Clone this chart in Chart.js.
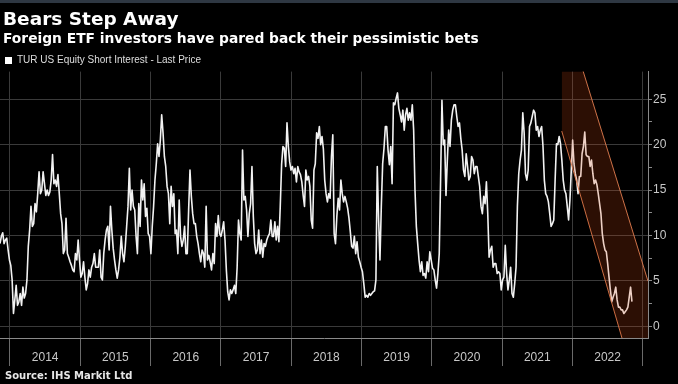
<!DOCTYPE html>
<html>
<head>
<meta charset="utf-8">
<title>Bears Step Away</title>
<script src="https://cdn.jsdelivr.net/npm/chart.js@4/dist/chart.umd.min.js"></script>
<style>
    html, body { margin: 0; padding: 0; background: #000; }
    #wrap { position: relative; width: 678px; height: 384px; overflow: hidden; background: #000; }
    #topbar { position: absolute; left: 0; top: 0; width: 678px; height: 3px; background: #2e3742; }
    .txt { position: absolute; left: 3px; color: #fff; font-family: "DejaVu Sans", sans-serif; font-weight: bold; white-space: nowrap; }
    #title { top: 8px; font-size: 18.5px; line-height: 22px; }
    #subtitle { top: 30px; font-size: 13.8px; line-height: 16px; }
    #source { top: 370px; left: 5px; font-size: 10px; line-height: 12px; color: #e6e6e6; }
    canvas { display: block; }
</style>
</head>
<body>
<div id="wrap">
    <canvas id="siChart" width="678" height="384"></canvas>
    <div id="topbar"></div>
    <div id="title" class="txt">Bears Step Away</div>
    <div id="subtitle" class="txt">Foreign ETF investors have pared back their pessimistic bets</div>
    <div id="source" class="txt">Source: IHS Markit Ltd</div>
</div>
<script>
// weekly readings, first one mid-Nov 2013 (decimal years on the x axis)
const firstWeek = 2013.858;
const weekStep = 7 / 365.25;

const shortInterest = [
    9.1, 9.9, 10.3, 9.1, 9.5, 9.7, 8.4, 7.3, 6.7, 5.1,
    1.4, 2.9, 4.5, 2.3, 2.7, 3.6, 2.3, 4.3, 3.1, 3.6,
    5.1, 8.8, 10.6, 13.2, 11.0, 11.3, 13.5, 12.6, 14.6, 17.0,
    14.6, 15.0, 17.0, 15.7, 14.4, 15.0, 14.4, 14.8, 16.1, 18.9,
    15.7, 16.1, 15.4, 16.7, 14.6, 12.4, 11.3, 8.0, 8.4, 11.9,
    8.0, 7.6, 7.1, 6.7, 6.2, 6.0, 8.0, 7.3, 9.5, 7.3,
    5.4, 5.8, 7.1, 5.4, 4.0, 4.7, 6.2, 5.4, 6.5, 6.9,
    8.0, 6.5, 6.5, 6.5, 8.4, 5.4, 5.1, 8.0, 9.5, 10.6,

    11.0, 8.4, 13.2, 10.6, 8.6, 7.3, 6.2, 5.3, 6.2, 7.6,
    9.9, 8.0, 7.1, 8.8, 11.0, 13.2, 17.4, 12.8, 15.0, 13.2,
    12.8, 9.9, 8.0, 13.5, 11.0, 16.1, 13.9, 15.7, 12.1, 13.0,
    10.2, 9.9, 8.0, 11.0, 13.2, 16.1, 17.9, 20.1, 18.7, 20.5,
    23.3, 21.3, 18.7, 17.6, 15.4, 14.6, 11.3, 15.4, 13.2, 14.6,
    10.2, 10.6, 8.0, 13.9, 9.9, 8.8, 9.5, 11.0, 8.0, 8.0,
    12.8, 17.2, 14.3, 12.4, 11.3, 11.3, 9.9, 9.1, 8.0, 7.1,
    8.4, 8.0, 6.5, 13.2, 7.3, 7.8, 7.1, 6.2, 8.0, 6.9,

    11.3, 9.9, 12.2, 10.2, 9.9, 10.6, 11.5, 9.5, 6.2, 3.8,
    2.9, 4.0, 3.6, 4.0, 4.5, 3.6, 6.5, 11.7, 10.2, 9.5,
    19.4, 13.9, 14.3, 12.8, 9.9, 12.4, 13.5, 17.6, 12.1, 9.1,
    8.0, 8.4, 10.6, 8.0, 9.5, 7.6, 9.1, 8.8, 9.5, 9.9,
    10.2, 11.7, 9.9, 9.9, 11.5, 9.5, 11.0, 9.3, 13.2, 17.8,
    19.8, 19.6, 17.6, 22.4, 19.8, 18.1, 17.2, 17.6, 16.8, 17.4,
    15.9, 17.6, 17.0, 16.7, 15.9, 14.4, 13.2, 17.2, 16.1, 16.5,
    15.4, 11.7, 10.8, 17.2, 17.9, 21.3, 20.7, 22.0, 20.0, 20.9,

    19.5, 16.1, 14.6, 13.7, 14.6, 14.1, 18.7, 21.1, 10.2, 9.1,
    12.1, 14.1, 12.8, 16.1, 14.6, 13.7, 14.3, 13.7, 13.0, 11.9,
    10.4, 8.8, 8.6, 9.9, 8.0, 9.3, 7.6, 7.1, 6.5, 6.0,
    4.7, 3.2, 3.4, 3.2, 3.6, 3.4, 3.6, 3.8, 3.9, 5.1,
    17.6, 11.7, 7.3, 13.2, 17.9, 19.6, 22.0, 22.0, 19.4, 17.8,
    19.8, 15.7, 24.6, 24.4, 25.1, 25.7, 24.0, 23.3, 22.5, 23.8,
    21.6, 23.3, 24.0, 22.7, 23.5, 22.7, 24.4, 21.6, 15.0, 11.0,
    9.1, 7.3, 6.0, 7.1, 5.6, 5.8, 5.3, 7.1, 6.0, 8.2,

    7.3, 6.4, 6.2, 5.1, 4.2, 5.8, 8.0, 16.1, 24.9, 20.0,
    20.5, 14.4, 18.3, 21.6, 19.8, 22.7, 23.8, 24.4, 24.4, 23.1,
    22.0, 22.4, 20.7, 19.4, 17.2, 16.5, 19.0, 17.6, 16.1, 16.5,
    18.7, 18.3, 16.8, 17.6, 17.6, 16.5, 15.4, 13.2, 12.4, 14.3,
    13.5, 15.9, 12.4, 7.6, 8.4, 8.8, 6.5, 6.9, 6.9, 5.8,
    6.0, 5.8, 4.0, 5.1, 5.4, 8.9, 5.8, 4.0, 5.1, 6.5,
    3.6, 3.2, 4.7, 6.5, 13.2, 16.8, 18.3, 19.4, 23.5, 21.3,
    16.8, 16.1, 17.2, 22.0, 22.4, 23.1, 23.8, 23.5, 21.6, 22.0,

    20.9, 21.6, 22.0, 19.8, 16.1, 14.6, 14.3, 13.7, 12.4, 11.0,
    11.3, 11.7, 16.1, 20.1, 20.0, 20.9, 20.1, 18.3, 16.1, 15.0,
    14.6, 13.2, 11.7, 13.9, 17.2, 20.5, 17.9, 16.8, 16.1, 14.6,
    16.5, 16.5, 19.0, 19.8, 21.4, 18.9, 18.7, 18.7, 17.6, 18.3,
    16.8, 15.7, 16.1, 15.6, 14.6, 13.5, 12.4, 10.2, 9.1, 8.4,
    8.2, 6.9, 5.4, 4.0, 2.7, 3.2, 3.6, 4.3, 2.9, 2.1,
    2.1, 1.8, 1.8, 1.4, 1.6, 1.8, 2.1, 3.2, 4.3, 2.7
];

const yearLabels = ["2014", "2015", "2016", "2017", "2018", "2019", "2020", "2021", "2022"];
const yTickValues = [0, 2.5, 5, 7.5, 10, 12.5, 15, 17.5, 20, 22.5, 25];

// shaded downtrend channel, corners
const bandX = [2021.848, 2022.10, 2022.72, 2023.075];
const bandTop = [29.4, 29.4, 13.9, 4.96];
const bandBottom = [21.5, 14.8, -1.7, -1.7];

const xMin = 2013.858;
const xMax = 2023.075;
const yMin = -1.3;
const yMax = 28.05;

const gridColor = "#3a3a3a";
const axisColor = "#8a8a8a";
const labelColor = "#c8c8c8";

const seriesPoints = shortInterest.map((v, i) => ({ x: firstWeek + i * weekStep, y: v }));
const topPoints = bandX.map((x, i) => ({ x: x, y: bandTop[i] }));
const bottomPoints = bandX.map((x, i) => ({ x: x, y: bandBottom[i] }));

// legend box is a bit taller than the original, trim it
const legendTrim = {
    id: "legendTrim",
    afterInit(chart) {
        if (!chart.legend) return;
        const fit = chart.legend.fit;
        chart.legend.fit = function () {
            fit.call(chart.legend);
            this.height -= 4;
        };
    }
};

Chart.defaults.font.family = "'Liberation Sans', Arial, sans-serif";

const ctx = document.getElementById("siChart").getContext("2d");

new Chart(ctx, {
    type: "line",

    data: {
        datasets: [
            {
                label: "TUR US Equity Short Interest - Last Price",
                data: seriesPoints,
                borderColor: "#f2f2f2",
                backgroundColor: "#ffffff",
                borderWidth: 1.6,
                borderJoinStyle: "round",
                pointRadius: 0,
                fill: false,
                order: 3
            },
            {
                label: "band top",
                data: topPoints,
                borderColor: "rgba(225, 125, 80, 0.9)",
                backgroundColor: "rgba(220, 75, 20, 0.2)",
                borderWidth: 1,
                pointRadius: 0,
                fill: "+1",
                order: 1
            },
            {
                label: "band bottom",
                data: bottomPoints,
                borderColor: "rgba(225, 125, 80, 0.9)",
                borderWidth: 1,
                pointRadius: 0,
                fill: false,
                order: 2
            }
        ]
    },

    options: {
        responsive: false,
        animation: false,
        layout: {
            padding: { top: 50.6, left: 0, right: 0, bottom: 0 }
        },

        plugins: {
            title: { display: false },
            tooltip: { enabled: false },
            legend: {
                display: true,
                position: "top",
                align: "start",
                labels: {
                    color: "#dedede",
                    font: { size: 10 },
                    boxWidth: 7,
                    boxHeight: 7,
                    padding: 5,
                    generateLabels: chart => [{
                        text: chart.data.datasets[0].label,
                        fillStyle: "#ffffff",
                        strokeStyle: "#ffffff",
                        lineWidth: 0,
                        fontColor: "#dedede",
                        hidden: false,
                        datasetIndex: 0
                    }]
                }
            }
        },

        scales: {
            x: {
                type: "linear",
                min: xMin,
                max: xMax,
                afterBuildTicks: axis => {
                    const ticks = [];
                    yearLabels.forEach(y => {
                        ticks.push({ value: Number(y) });
                        ticks.push({ value: Number(y) + 0.5 });
                    });
                    ticks.push({ value: Number(yearLabels[yearLabels.length - 1]) + 1 });
                    axis.ticks = ticks;
                },
                afterFit: axis => { axis.height = 46; },
                ticks: {
                    autoSkip: false,
                    maxRotation: 0,
                    color: labelColor,
                    font: { size: 12 },
                    padding: -16,
                    callback: value => Number.isInteger(value) ? "" : String(Math.floor(value))
                },
                grid: {
                    color: c => (c.tick && Number.isInteger(c.tick.value)) ? gridColor : "rgba(0,0,0,0)",
                    tickColor: c => (c.tick && Number.isInteger(c.tick.value)) ? "#6a6a6a" : "rgba(0,0,0,0)",
                    tickLength: 28,
                    lineWidth: 1
                },
                border: { display: true, color: axisColor, width: 1 }
            },

            y: {
                position: "right",
                min: yMin,
                max: yMax,
                afterBuildTicks: axis => {
                    axis.ticks = yTickValues.map(v => ({ value: v }));
                },
                afterFit: axis => { axis.width = 30; },
                ticks: {
                    color: labelColor,
                    font: { size: 12 },
                    padding: 1,
                    callback: value => (value % 5 === 0) ? String(value) : ""
                },
                grid: {
                    color: c => (c.tick && c.tick.value % 5 === 0) ? gridColor : "rgba(0,0,0,0)",
                    tickColor: axisColor,
                    tickLength: 4,
                    lineWidth: 1
                },
                border: { display: true, color: axisColor, width: 1 }
            }
        }
    },

    plugins: [legendTrim]
});
</script>
</body>
</html>
